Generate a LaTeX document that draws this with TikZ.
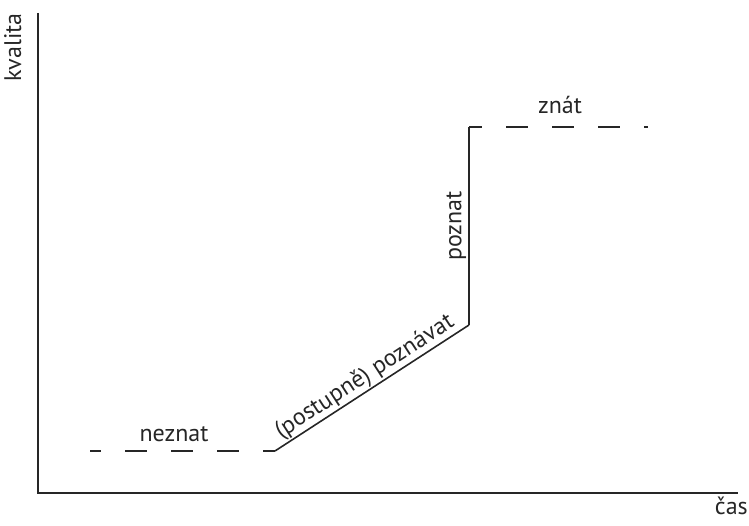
\documentclass[tikz,border=0pt]{standalone}
\usepackage{fontspec}
\setmainfont{PT Sans}
\usetikzlibrary{positioning}
\tikzset{
  axisline/.style={line width=1.8pt, black!85},
  curveline/.style={line width=1.6pt, black!85},
  levelline/.style={line width=1.6pt, black!85, dash pattern=on 22pt off 24pt},
  lbl/.style={font=\fontsize{24}{28}\selectfont, text=black!85, inner sep=2pt}
}
\begin{document}
\begin{tikzpicture}[x=1pt, y=1pt]
  \useasboundingbox (0,0) rectangle (749,526);
  % axes
  \coordinate (orig) at (38,33);
  \coordinate (ytop) at (38,513);
  \coordinate (xend) at (738,33);
  \draw[axisline] (ytop) -- (orig) -- (xend);
  \node[lbl, rotate=90, anchor=north east] (kval) at (2,515) {kvalita};
  \node[lbl, anchor=north east] (cas) at (750,31) {čas};
  % phases
  \coordinate (lowA) at (90,75);
  \coordinate (lowB) at (275,75);
  \coordinate (highA) at (469,201);
  \coordinate (highB) at (469,399);
  \coordinate (highC) at (648,399);
  \draw[levelline, dash phase=11pt] (lowA) -- (lowB);
  \node[lbl, anchor=base] (nez) at (174,84) {neznat};
  \draw[curveline] (lowB) -- node[lbl, midway, above, sloped, inner sep=1pt] (pozv) {(postupně) poznávat} (highA);
  \draw[curveline] (highA) -- node[lbl, midway, above, sloped] (pozn) {poznat} (highB);
  \draw[levelline, dash phase=9pt] (highB) -- (highC);
  \node[lbl, anchor=base] (znat) at (560,412) {znát};
\end{tikzpicture}
\end{document}
